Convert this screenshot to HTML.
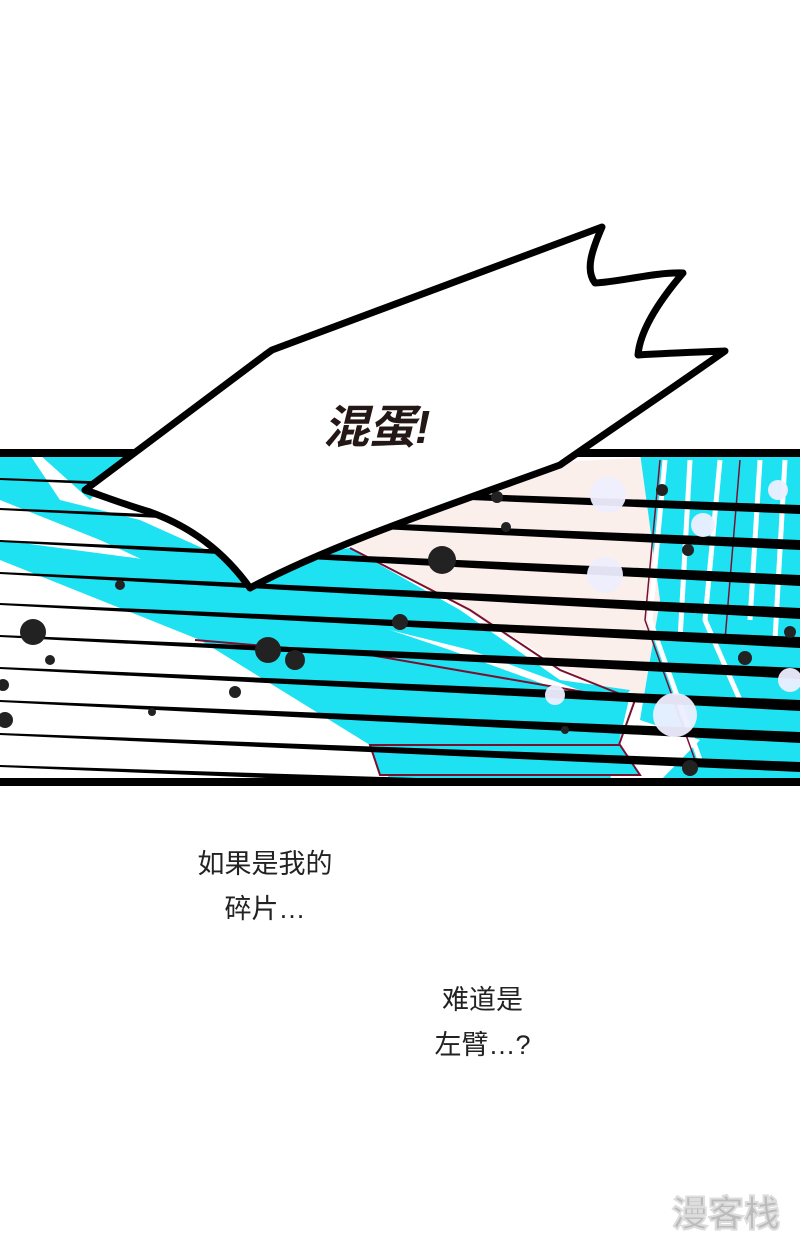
<!DOCTYPE html>
<html><head><meta charset="utf-8"><style>
html,body{margin:0;padding:0;background:#fff;}
body{width:800px;height:1244px;position:relative;overflow:hidden;font-family:"Liberation Sans","Noto Sans CJK SC",sans-serif;}
.t{position:absolute;font-size:27px;color:#222;line-height:45px;text-align:center;}
</style></head><body>
<svg width="800" height="1244" style="position:absolute;left:0;top:0">
<defs><clipPath id="p"><rect x="0" y="453" width="800" height="328"/></clipPath></defs>
<g clip-path="url(#p)">
<rect x="0" y="453" width="800" height="328" fill="#fff"/>
<polygon points="350,545 560,462 690,455 660,700 600,690 470,610" fill="#fbefeb"/>
<polygon points="0,480 0,540 150,560 300,600 450,650 560,690 630,695 610,780 390,780 370,745 200,640 0,560" fill="#1ee2f2"/>
<polygon points="30,455 60,500 140,520 240,565 350,548 460,610 560,680 630,690 620,705 470,650 350,620 230,600 100,540 0,500 0,455" fill="#1ee2f2"/>
<polygon points="40,455 130,455 90,500" fill="#1ee2f2"/>
<path d="M350,548 L470,610 L560,670 L635,700 L610,770" fill="none" stroke="#7a1030" stroke-width="2"/>
<path d="M195,640 L370,655 L630,700" fill="none" stroke="#7a1030" stroke-width="2"/>
<polygon points="640,453 800,453 800,781 660,781 700,740 640,720 660,600" fill="#1ee2f2"/>
<path d="M665,460 L650,620 L700,760 M690,460 L680,640 M720,460 L705,620 L740,700 M760,460 L750,620 M785,460 L775,640" fill="none" stroke="#fff" stroke-width="5"/>
<path d="M660,460 L645,620 L695,760 M740,460 L725,640" fill="none" stroke="#7a1030" stroke-width="1.5"/>
<polygon points="370,745 620,745 640,775 380,775" fill="#1ee2f2" stroke="#7a1030" stroke-width="2"/>
<g fill="#000">
<polygon points="0,478 800,505 800,514 0,480"/>
<polygon points="0,508 800,540 800,550 0,510"/>
<polygon points="0,540 800,575 800,586 0,542"/>
<polygon points="0,572 800,608 800,619 0,574"/>
<polygon points="0,603 800,637 800,648 0,605"/>
<polygon points="0,635 800,668 800,679 0,637"/>
<polygon points="0,667 800,700 800,711 0,669"/>
<polygon points="0,700 800,732 800,743 0,702"/>
<polygon points="0,733 800,762 800,772 0,735"/>
<polygon points="0,765 800,790 800,800 0,767"/>
</g>
<g fill="#222">
<circle cx="33" cy="632" r="13"/><circle cx="442" cy="560" r="14"/><circle cx="268" cy="650" r="13"/><circle cx="295" cy="660" r="10"/>
<circle cx="400" cy="622" r="8"/><circle cx="235" cy="692" r="6"/><circle cx="120" cy="585" r="5"/><circle cx="497" cy="497" r="6"/>
<circle cx="506" cy="527" r="5"/><circle cx="662" cy="490" r="6"/><circle cx="688" cy="550" r="6"/><circle cx="745" cy="658" r="7"/>
<circle cx="690" cy="768" r="8"/><circle cx="565" cy="730" r="4"/><circle cx="50" cy="660" r="5"/><circle cx="3" cy="685" r="6"/>
<circle cx="5" cy="720" r="8"/><circle cx="152" cy="712" r="4"/><circle cx="790" cy="632" r="6"/>
</g>
<g fill="#eef" opacity="0.95">
<circle cx="608" cy="495" r="18"/><circle cx="605" cy="575" r="18"/><circle cx="675" cy="715" r="22"/><circle cx="555" cy="695" r="10"/>
<circle cx="703" cy="525" r="12"/><circle cx="778" cy="490" r="10"/><circle cx="790" cy="680" r="12"/>
</g>
</g>
<rect x="0" y="449" width="800" height="8" fill="#000"/>
<rect x="0" y="778" width="800" height="8" fill="#000"/>
<path d="M85,490 L265,355 L272,350 L602,227 C592,250 585,270 595,283 C620,282 655,272 683,273 C660,300 640,330 638,355 C670,353 700,352 725,351 C670,390 610,430 560,465 C450,505 330,545 250,588 C230,560 200,530 150,512 C120,503 100,495 85,490 Z" fill="#fff" stroke="#000" stroke-width="7" stroke-linejoin="round"/>
<text x="323" y="443" font-family="Liberation Sans,'Noto Sans CJK SC',sans-serif" font-weight="bold" font-size="46" fill="#231816" font-style="italic">混蛋!</text>
<text x="672" y="1226" font-family="Liberation Sans,'Noto Sans CJK SC',sans-serif" font-weight="bold" font-size="36" fill="#bbb" stroke="#ddd" stroke-width="2">漫客栈</text>
</svg>
<div class="t" style="left:180px;top:842px;width:170px">如果是我的<br>碎片…</div>
<div class="t" style="left:415px;top:978px;width:135px">难道是<br>左臂…?</div>
</body></html>
